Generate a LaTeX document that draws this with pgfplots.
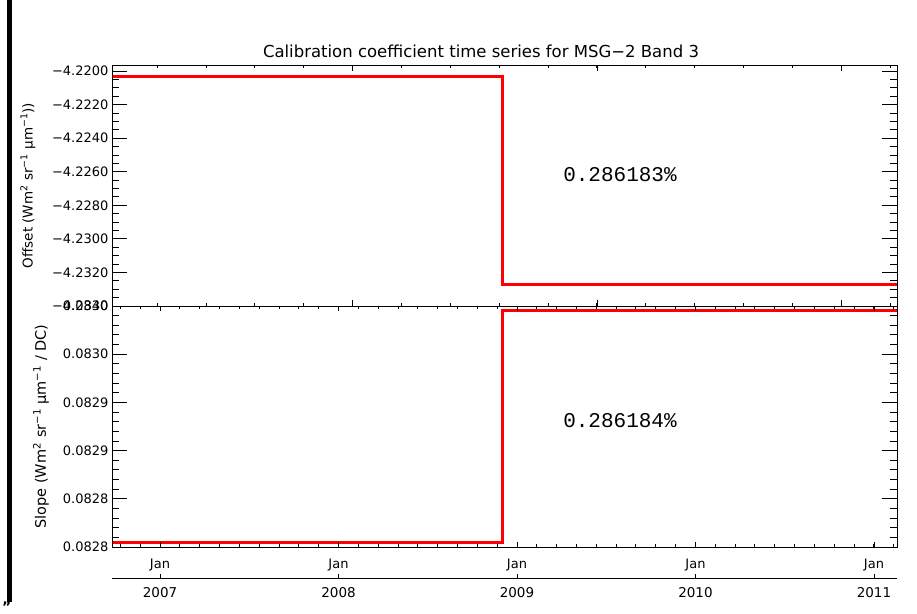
\documentclass[border=0pt]{standalone}
\usepackage{pgfplots}
\pgfplotsset{compat=1.18}
\usepackage{fontspec}
\setmainfont{DejaVu Sans}
\newfontfamily\monofont{Liberation Mono}

\definecolor{stepred}{RGB}{255,0,0}

% time axis in decimal years
\pgfplotsset{
  panel/.style={
    scale only axis, width=785pt, height=241pt,
    xmin=2006.731, xmax=2011.129,
    axis line style={line width=0.9pt, black},
    tick style={line width=0.9pt, black},
    tick align=inside,
    tick label style={font=\fontsize{13}{15}\selectfont},
    scaled ticks=false,
  },
  ylab/.style={
    every axis y label/.style={at={(rel axis cs:0,0.5)}, xshift=#1, rotate=90, anchor=center,
      font=\fontsize{13.5}{15}\selectfont},
  },
}

\begin{document}
\begin{tikzpicture}
\useasboundingbox (0,0) rectangle (917pt,-613pt);

% page edge mark
\fill[black] (7pt,0) rectangle (12pt,-602pt);
\node[anchor=base, font=\bfseries\fontsize{14}{16}\selectfont, inner sep=0pt] at (7pt,-604pt) {„};

% title
\node[anchor=base, font=\fontsize{16.5}{18}\selectfont] at (481pt,-57pt)
  {Calibration coefficient time series for MSG−2 Band 3};

% ---------- offset panel ----------
\begin{axis}[panel, at={(112pt,-65pt)}, anchor=north west,
  ymin=-4.2340, ymax=-4.21964,
  ytick={-4.2340,-4.2320,-4.2300,-4.2280,-4.2260,-4.2240,-4.2220,-4.2200},
  yticklabels={−4.2340,−4.2320,−4.2300,−4.2280,−4.2260,−4.2240,−4.2220,−4.2200},
  minor y tick num=3,
  xtick=\empty,
  major tick length=15pt, minor tick length=7.5pt,
  ylab=-84pt,
  ylabel={Offset (Wm\textsuperscript{2} sr\textsuperscript{−1} µm\textsuperscript{−1}))},
]
\addplot[stepred, line width=3pt, line join=miter] coordinates {
  (2006.6,-4.22030) (2008.919,-4.22030) (2008.919,-4.23274) (2011.3,-4.23274)};
\node[font=\monofont\fontsize{21}{23}\selectfont] at (axis cs:2009.577,-4.22617) {0.286183\%};
\end{axis}
\begin{axis}[panel, at={(112pt,-65pt)}, anchor=north west,
  ymin=-4.2340, ymax=-4.21964, ytick=\empty,
  xtick={2008.0788,2009.4482,2010.8176}, xticklabels={},
  minor xtick={2006.9841,2007.2579,...,2011.12},
  major tick length=6pt, minor tick length=3.5pt,
]
\end{axis}

% ---------- slope panel ----------
\begin{axis}[panel, at={(112pt,-306pt)}, anchor=north west,
  ymin=0.08280, ymax=0.08300,
  ytick={0.08280,0.08284,0.08288,0.08292,0.08296,0.08300},
  yticklabels={0.0828,0.0828,0.0829,0.0829,0.0830,0.0830},
  minor y tick num=4,
  xtick=\empty,
  major tick length=15pt, minor tick length=7.5pt,
  ylab=-71pt,
  ylabel={Slope (Wm\textsuperscript{2} sr\textsuperscript{−1} µm\textsuperscript{−1} / DC)},
  every axis y label/.append style={font=\fontsize{14.5}{16}\selectfont},
]
\addplot[stepred, line width=3pt, line join=miter] coordinates {
  (2006.6,0.082804) (2008.919,0.082804) (2008.919,0.082996) (2011.3,0.082996)};
\node[font=\monofont\fontsize{21}{23}\selectfont] at (axis cs:2009.577,0.082905) {0.286184\%};
\end{axis}
\begin{axis}[panel, at={(112pt,-306pt)}, anchor=north west,
  ymin=0.08280, ymax=0.08300, ytick=\empty,
  xtick={2007,2008,2009,2010,2011},
  xticklabels={Jan,Jan,Jan,Jan,Jan},
  minor xtick={2006.77778,2006.88889,...,2011.12},
  major tick length=5pt, minor tick length=3pt,
  xticklabel style={yshift=-8pt},
]
\end{axis}

% ---------- year axis ----------
\begin{axis}[scale only axis, width=785pt, height=8pt,
  at={(112pt,-578pt)}, anchor=south west,
  xmin=2006.731, xmax=2011.129, ymin=0, ymax=1,
  hide y axis, axis x line*=bottom,
  x axis line style={-, line width=0.9pt, black},
  tick style={line width=0.9pt, black},
  tick align=inside, major tick length=4pt,
  xtick={2007,2008,2009,2010,2011},
  xticklabels={2007,2008,2009,2010,2011},
  tick label style={font=\fontsize{13.5}{15}\selectfont},
  xticklabel style={yshift=-6pt},
]
\end{axis}
\end{tikzpicture}
\end{document}
